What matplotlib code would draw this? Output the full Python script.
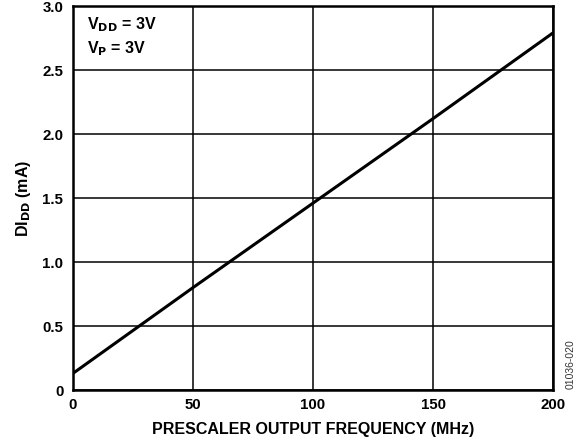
import matplotlib
matplotlib.use('Agg')
import matplotlib.pyplot as plt

freq_mhz = [0, 50, 100, 150, 200]
di_dd_ma = [0.13, 0.80, 1.46, 2.12, 2.79]
x_ticks = [0, 50, 100, 150, 200]
y_ticks = [0, 0.5, 1.0, 1.5, 2.0, 2.5, 3.0]
y_tick_labels = ['0', '0.5', '1.0', '1.5', '2.0', '2.5', '3.0']

plt.rcParams['font.family'] = ['Liberation Sans', 'DejaVu Sans']

fig = plt.figure(figsize=(5.82, 4.42), dpi=100)
ax = fig.add_axes([73 / 582, 1 - 390 / 442, 480 / 582, 384 / 442])

ax.plot(freq_mhz, di_dd_ma, color='black', linewidth=2.2)

ax.set_xlim(0, 200)
ax.set_ylim(0, 3.0)
ax.set_xticks(x_ticks)
ax.set_yticks(y_ticks)
ax.set_yticklabels(y_tick_labels)
ax.grid(True, color='black', linewidth=1.1)
ax.tick_params(axis='x', length=0, pad=6, labelsize=10.8)
ax.tick_params(axis='y', length=0, pad=7, labelsize=10.8)
for lbl in ax.get_xticklabels() + ax.get_yticklabels():
    lbl.set_fontweight('bold')
for sp in ax.spines.values():
    sp.set_linewidth(1.8)

ax.set_xlabel('PRESCALER OUTPUT FREQUENCY (MHz)', fontsize=11.5, fontweight='bold', labelpad=7)
ax.set_ylabel('DI$_{\\mathbf{DD}}$ (mA)', fontsize=11.5, fontweight='bold', labelpad=7)

ax.text(0.03, 0.975, 'V$_{\\mathbf{DD}}$ = 3V\nV$_{\\mathbf{P}}$ = 3V', transform=ax.transAxes,
        fontsize=11.5, fontweight='bold', va='top', ha='left', linespacing=1.35)

fig.text(571 / 582, 1 - 364 / 442, '01036-020', rotation=90, fontsize=7.5,
         ha='center', va='center', color='#333333')

fig.savefig('out.png', dpi=100)
